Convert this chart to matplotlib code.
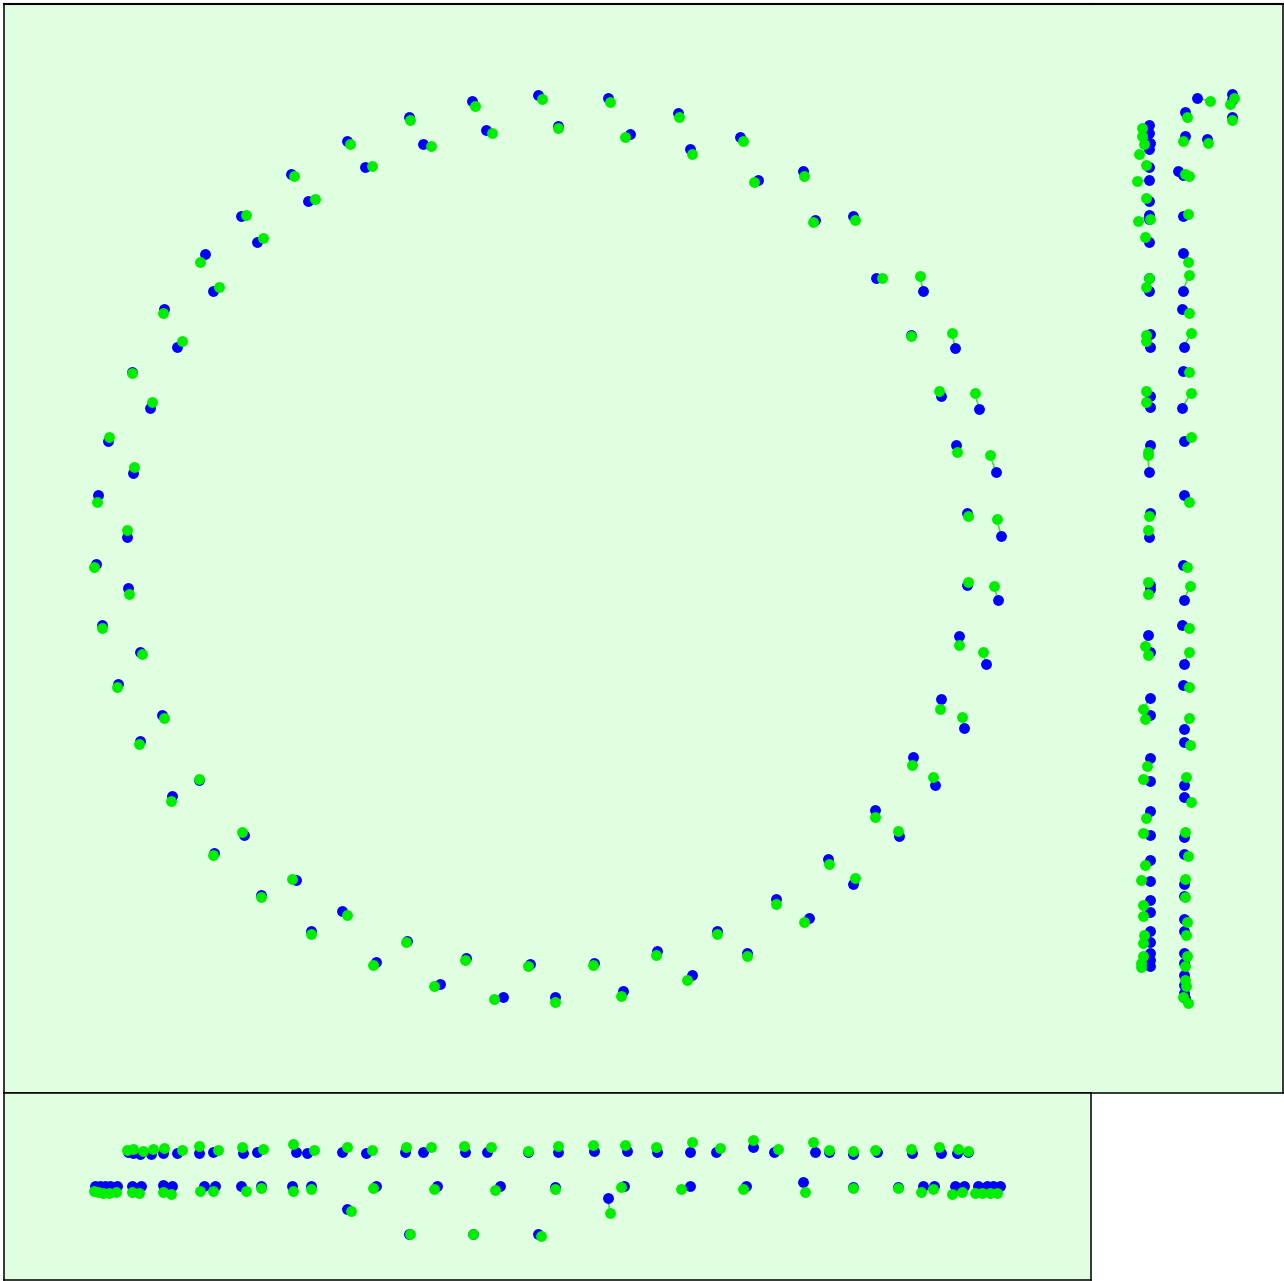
import numpy as np
import matplotlib
matplotlib.use("Agg")
from matplotlib import pyplot as plt

# 俯视图 (x, y): 蓝色=观测点, 绿色=重投影点
xy_blue_x = [409, 423, 472, 486, 538, 558, 608, 630, 678, 690,
             740, 758, 803, 815, 853, 876, 923, 911, 955, 941, 979, 956, 996, 967, 1001,
             967, 998, 959, 986, 941, 964, 913, 935, 875, 899, 828, 853, 776, 809, 717, 747,
             407, 440, 466, 503, 530, 555, 594, 623, 657, 692,
             96, 128, 102, 140, 118, 162, 140, 199, 172, 244, 214, 296, 261, 342, 311, 376,
             347, 365, 291, 308, 241, 257, 205, 213, 164, 177, 132, 150, 108, 133, 98, 127]
xy_blue_y = [117, 144, 101, 130, 95, 126, 98, 134, 113, 149,
             137, 180, 171, 220, 216, 278, 291, 335, 348, 396, 409, 445, 472, 513, 536,
             585, 600, 636, 664, 699, 728, 757, 785, 810, 836, 859, 884, 899, 918, 931, 953,
             941, 984, 958, 997, 964, 997, 963, 991, 951, 975,
             564, 588, 625, 652, 684, 715, 741, 780, 796, 835, 853, 880, 895, 911, 931, 962,
             141, 167, 174, 201, 216, 242, 254, 291, 309, 347, 372, 408, 441, 473, 495, 537]
xy_green_x = [410, 431, 475, 492, 542, 558, 610, 625, 679, 692,
              743, 754, 804, 813, 855, 882, 920, 911, 952, 939, 975, 957, 990, 968, 997,
              968, 994, 959, 983, 940, 962, 912, 933, 875, 898, 829, 855, 776, 804, 717, 747,
              406, 434, 465, 494, 528, 555, 593, 621, 656, 687,
              94, 129, 102, 142, 117, 164, 139, 199, 171, 242, 213, 292, 261, 347, 311, 373,
              350, 372, 294, 315, 246, 263, 200, 219, 163, 182, 132, 152, 109, 134, 97, 127]
xy_green_y = [120, 146, 106, 133, 99, 128, 102, 137, 117, 154,
              141, 182, 176, 222, 220, 278, 276, 336, 333, 391, 393, 452, 455, 516, 519,
              582, 586, 645, 652, 709, 717, 765, 777, 817, 831, 864, 878, 904, 922, 934, 956,
              942, 986, 960, 999, 966, 1002, 965, 996, 955, 980,
              567, 594, 628, 654, 687, 718, 744, 779, 801, 832, 855, 879, 897, 915, 934, 965,
              144, 166, 176, 199, 215, 238, 262, 287, 313, 341, 373, 402, 437, 467, 502, 530]

# 侧视图 (z, y)
zy_blue_z = [106, 141, 141, 141, 94, 94, 116, 87, 92, 92, 92, 92,
             58, 58, 59, 58, 58, 58, 58, 58, 58, 58, 58, 58,
             91, 59, 59, 93, 92, 59, 59, 91, 93, 58, 59, 93, 59, 58, 92, 93, 59, 59, 91, 93,
             57, 59, 92, 59, 59, 93, 93, 59, 59, 93, 93, 59, 59, 93, 93, 59, 59, 93, 93,
             59, 59, 93, 93, 59, 59, 59, 59, 59, 93, 93, 93, 93, 93, 94]
zy_blue_y = [98, 94, 100, 117, 112, 136, 139, 171, 175, 216, 253, 291,
             125, 133, 143, 149, 167, 180, 201, 215, 219, 242, 278, 291,
             309, 334, 347, 347, 371, 396, 407, 408, 441, 472, 445, 495, 513, 537, 565, 600,
             585, 589, 625, 664,
             635, 652, 685, 698, 715, 729, 742, 758, 781, 785, 797, 811, 835, 837, 854, 860,
             881, 884, 896,
             900, 912, 919, 931, 931, 942, 953, 960, 966, 953, 963, 975, 985, 993, 998]
zy_green_z = [119, 143, 139, 141, 96, 92, 117, 94, 98, 97, 97, 98,
              51, 51, 53, 48, 55, 46, 55, 47, 59, 54, 58, 55,
              98, 55, 55, 100, 98, 55, 55, 100, 100, 57, 57, 98, 58, 57, 96, 99, 57, 57, 98,
              98,
              54, 57, 98, 52, 54, 98, 99, 56, 52, 95, 100, 55, 52, 94, 97, 54, 50, 94, 94,
              52, 52, 96, 95, 53, 52, 52, 50, 50, 96, 94, 94, 95, 92, 97]
zy_green_y = [101, 98, 104, 120, 117, 141, 143, 174, 176, 214, 262, 275,
              128, 136, 144, 154, 165, 181, 198, 221, 219, 237, 278, 287,
              313, 335, 341, 333, 372, 391, 402, 393, 437, 455, 452, 502, 516, 530, 567, 586,
              582, 594, 628, 652,
              646, 655, 687, 709, 719, 718, 745, 766, 779, 777, 802, 818, 833, 832, 856, 865,
              880, 879, 897,
              905, 916, 922, 935, 935, 943, 956, 963, 967, 956, 966, 980, 986, 997, 1003]

# 前视图 (x, z)
xz_blue_x = [128, 133, 140, 151, 163, 177, 199, 213, 243, 257, 296, 307, 342, 366,
             405, 423, 465, 487, 528, 558, 594, 627, 657, 690, 716, 753, 774, 815, 829,
             853, 877, 912, 941, 957, 968,
             95, 100, 105, 110, 117, 132, 141, 163, 172, 204, 215, 241, 261, 292, 311, 376,
             437, 500, 555, 624, 690, 746, 803, 853, 898,
             923, 934, 955, 964, 978, 987, 993, 1000,
             347, 608, 409, 473, 538]
xz_blue_z = [59, 60, 61, 61, 60, 60, 60, 59, 60, 59, 59, 60, 59, 60,
             59, 59, 59, 59, 59, 59, 58, 58, 59, 59, 59, 54, 59, 59, 59,
             61, 59, 60, 60, 60, 59,
             93, 93, 93, 93, 93, 93, 93, 92, 93, 93, 93, 93, 93, 93, 93, 93,
             93, 93, 94, 93, 93, 93, 89, 94, 94,
             93, 93, 93, 93, 93, 93, 93, 93,
             116, 105, 141, 141, 141]
xz_green_x = [127, 133, 143, 153, 164, 182, 199, 218, 242, 263, 293, 314, 347, 372,
              406, 431, 464, 491, 528, 558, 593, 625, 656, 692, 720, 753, 778, 813, 829,
              853, 875, 911, 939, 958, 968,
              94, 98, 103, 109, 116, 132, 139, 163, 171, 200, 213, 246, 261, 293, 311, 373,
              434, 495, 555, 621, 681, 743, 805, 853, 898,
              921, 933, 952, 962, 975, 982, 990, 997,
              351, 610, 410, 473, 541]
xz_green_z = [57, 56, 58, 56, 55, 57, 53, 57, 54, 56, 51, 57, 54, 57,
              54, 54, 53, 54, 58, 53, 52, 52, 54, 49, 55, 47, 56, 49, 57,
              58, 57, 56, 54, 56, 58,
              98, 99, 100, 100, 99, 99, 100, 99, 101, 98, 98, 98, 95, 98, 96, 95,
              96, 97, 96, 94, 96, 96, 99, 95, 95,
              99, 96, 101, 99, 100, 100, 100, 100,
              118, 120, 141, 141, 143]

bg = "#e0ffe0"
blue = "#0000ff"
green = "#00ee00"
link = "#44dd44"
ms = 7.8


def draw_pairs(ax, bx, by, gx, gy):
    bx, by, gx, gy = map(np.asarray, (bx, by, gx, gy))
    ax.plot(np.vstack([bx, gx]), np.vstack([by, gy]), color=link, lw=1.2, zorder=1)
    ax.plot(bx, by, "o", color=blue, ms=ms, mew=0, zorder=2)
    ax.plot(gx, gy, "o", color=green, ms=ms, mew=0, zorder=3)


def setup(ax):
    ax.set_facecolor(bg)
    ax.set_xticks([])
    ax.set_yticks([])
    for s in ax.spines.values():
        s.set_linewidth(1.1)
        s.set_color("black")


W, H = 1284, 1281
fig = plt.figure(figsize=(W / 100, H / 100), dpi=100)

x0, x1, x2 = 4, 1091, 1283
y0, y1, y2 = 4, 1093, 1280

ax_xy = fig.add_axes([x0 / W, 1 - y1 / H, (x1 - x0) / W, (y1 - y0) / H])
ax_zy = fig.add_axes([x1 / W, 1 - y1 / H, (x2 - x1) / W, (y1 - y0) / H])
ax_xz = fig.add_axes([x0 / W, 1 - y2 / H, (x1 - x0) / W, (y2 - y1) / H])

for ax in (ax_xy, ax_zy, ax_xz):
    setup(ax)

# 俯视图和侧视图连成一块
ax_xy.spines["right"].set_visible(False)
ax_zy.spines["left"].set_visible(False)
ax_xy.spines["top"].set_linewidth(1.5)
ax_zy.spines["top"].set_linewidth(1.5)

draw_pairs(ax_xy, xy_blue_x, xy_blue_y, xy_green_x, xy_green_y)
ax_xy.set_xlim(x0, x1)
ax_xy.set_ylim(y1, y0)

draw_pairs(ax_zy, zy_blue_z, zy_blue_y, zy_green_z, zy_green_y)
ax_zy.set_xlim(0, x2 - x1)
ax_zy.set_ylim(y1, y0)

draw_pairs(ax_xz, xz_blue_x, xz_blue_z, xz_green_x, xz_green_z)
ax_xz.set_xlim(x0, x1)
ax_xz.set_ylim(y2 - y1, 0)

fig.savefig("out.png", dpi=100, facecolor="white")
